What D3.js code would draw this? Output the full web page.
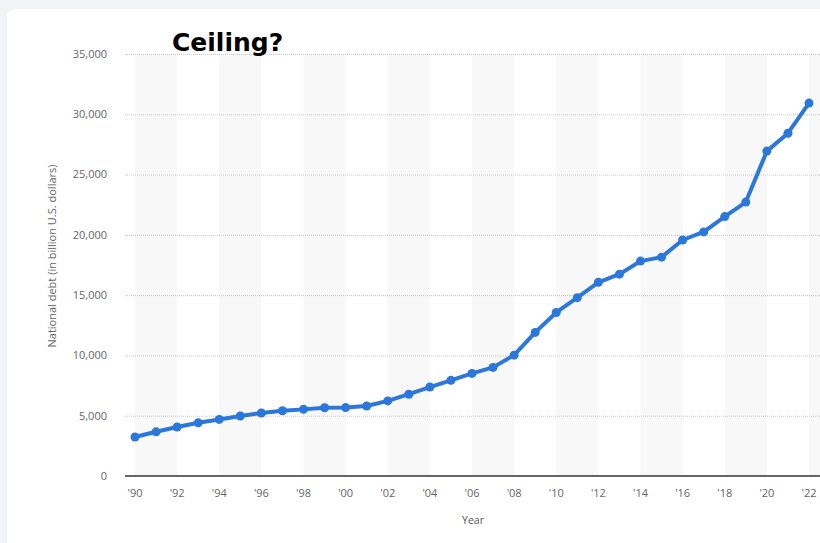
<!DOCTYPE html>
<html>
<head>
<meta charset="utf-8">
<script src="https://cdn.jsdelivr.net/npm/d3@7"></script>
<style>
  body { margin: 0; background: #f3f4f6; }
  svg { display: block; }
</style>
</head>
<body>
<svg id="chart" width="820" height="543"></svg>
<script>
// US national debt, billion dollars
const years = d3.range(1990, 2023);
const debt = [3233, 3665, 4065, 4411, 4693, 4974, 5225, 5413, 5526, 5656, 5674,
  5807, 6228, 6783, 7379, 7933, 8507, 9008, 10025, 11910, 13562, 14790, 16066,
  16738, 17824, 18151, 19573, 20245, 21516, 22719, 26945, 28429, 30929];
const yTicks = [0, 5000, 10000, 15000, 20000, 25000, 30000, 35000];
const xTicks = d3.range(1990, 2023, 2);
const bandStarts = d3.range(1990, 2023, 4);

const data = years.map((y, i) => ({ year: y, value: debt[i] }));

const svg = d3.select("#chart");
const font = "'Open Sans', 'DejaVu Sans', sans-serif";

// card
svg.append("rect")
  .attr("x", 7).attr("y", 9)
  .attr("width", 830).attr("height", 560)
  .attr("rx", 8)
  .attr("fill", "#fff");

const x = d3.scaleLinear([1990, 2022], [135, 809]);
const y = d3.scaleLinear([0, 35000], [476, 54]);
const left = 125, right = 820;

// alternating bands
svg.append("g")
  .selectAll("rect")
  .data(bandStarts)
  .join("rect")
  .attr("x", d => x(d))
  .attr("y", y(35000))
  .attr("width", d => x(d + 2) - x(d))
  .attr("height", y(0) - y(35000))
  .attr("fill", "#f8f8f8");

// grid
svg.append("g")
  .selectAll("line")
  .data(yTicks.filter(d => d > 0))
  .join("line")
  .attr("x1", left).attr("x2", right)
  .attr("y1", d => y(d) + 0.5).attr("y2", d => y(d) + 0.5)
  .attr("stroke", "#c8c8c8")
  .attr("stroke-dasharray", "1,1");

svg.append("line")
  .attr("x1", left).attr("x2", right)
  .attr("y1", y(0)).attr("y2", y(0))
  .attr("stroke", "#333")
  .attr("stroke-width", 1.5);

// y labels
svg.append("g")
  .selectAll("text")
  .data(yTicks)
  .join("text")
  .attr("x", 107)
  .attr("y", d => y(d))
  .attr("dy", "0.35em")
  .attr("text-anchor", "end")
  .attr("font-family", font)
  .attr("font-size", 11)
  .attr("fill", "#666")
  .text(d3.format(","));

// x labels
svg.append("g")
  .selectAll("text")
  .data(xTicks)
  .join("text")
  .attr("x", d => x(d))
  .attr("y", 497)
  .attr("text-anchor", "middle")
  .attr("font-family", font)
  .attr("font-size", 11)
  .attr("fill", "#666")
  .text(d => "'" + String(d).slice(2));

svg.append("text")
  .attr("x", 473).attr("y", 524)
  .attr("text-anchor", "middle")
  .attr("font-family", font)
  .attr("font-size", 10.5)
  .attr("fill", "#555")
  .text("Year");

svg.append("text")
  .attr("transform", "translate(56,256) rotate(-90)")
  .attr("text-anchor", "middle")
  .attr("font-family", font)
  .attr("font-size", 11)
  .attr("fill", "#666")
  .text("National debt (in billion U.S. dollars)");

// line
svg.append("path")
  .datum(data)
  .attr("fill", "none")
  .attr("stroke", "#2b77db")
  .attr("stroke-width", 4)
  .attr("stroke-linejoin", "round")
  .attr("d", d3.line().x(d => x(d.year)).y(d => y(d.value)));

svg.append("g")
  .selectAll("circle")
  .data(data)
  .join("circle")
  .attr("cx", d => x(d.year))
  .attr("cy", d => y(d.value))
  .attr("r", 4.5)
  .attr("fill", "#2b77db");

// title
svg.append("text")
  .attr("x", 172).attr("y", 51)
  .attr("font-family", "'DejaVu Sans', Verdana, sans-serif")
  .attr("font-weight", "bold")
  .attr("font-size", 25)
  .attr("fill", "#000")
  .text("Ceiling?");
</script>
</body>
</html>
